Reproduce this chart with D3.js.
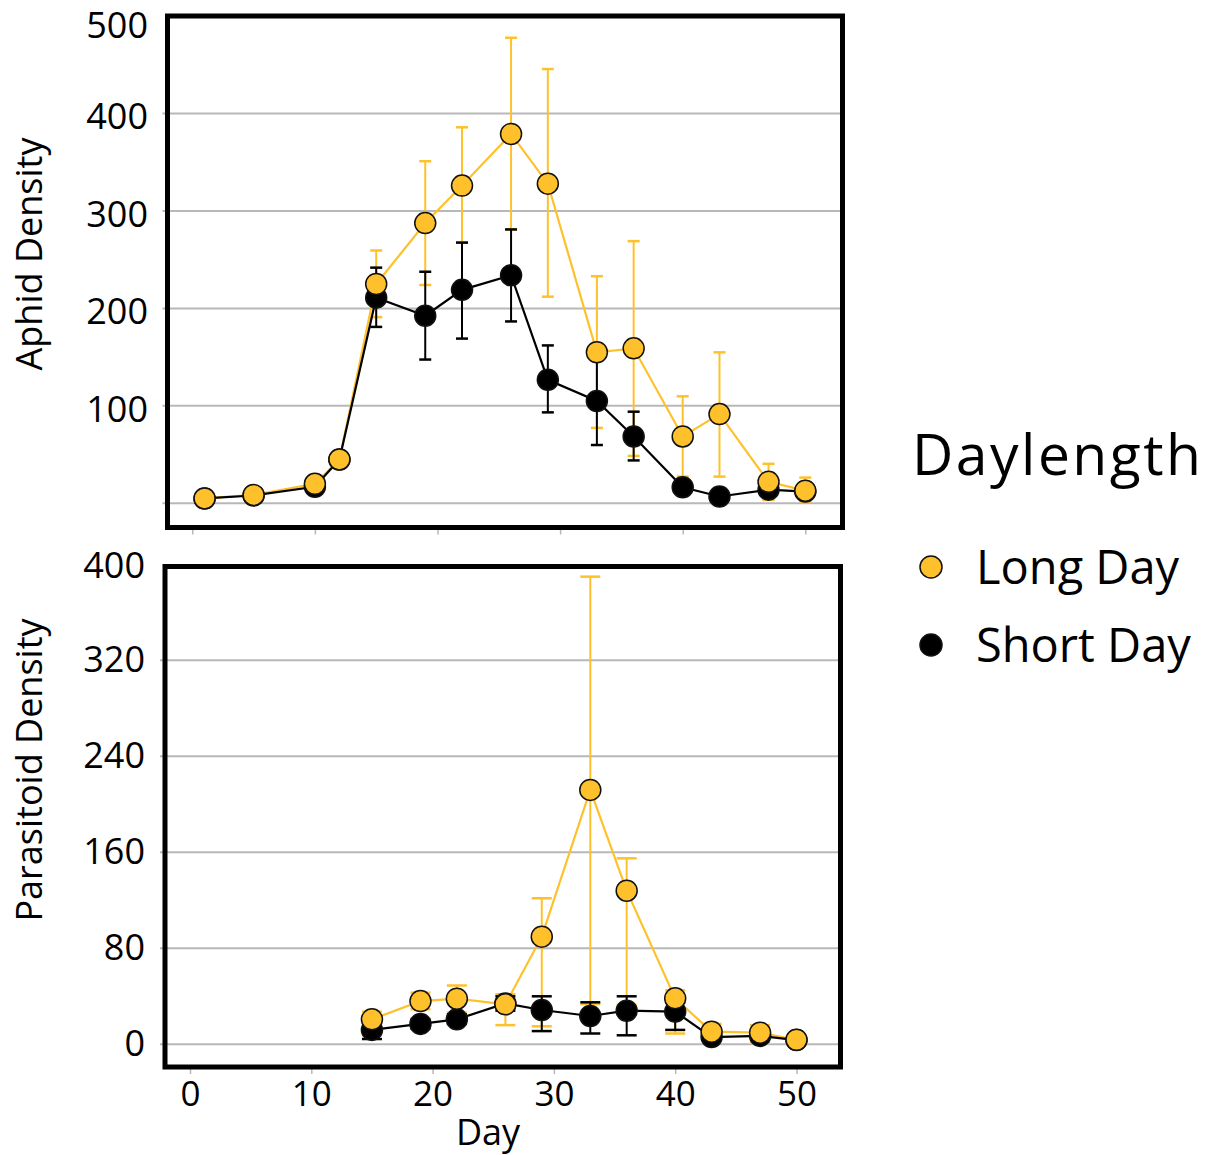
<!DOCTYPE html>
<html>
<head>
<meta charset="utf-8">
<script src="https://cdn.jsdelivr.net/npm/d3@7"></script>
<style>
  html, body { margin: 0; padding: 0; background: #fff; }
  svg { display: block; font-family: "Open Sans", "Noto Sans", sans-serif; }
</style>
</head>
<body>
<svg id="chart" width="1210" height="1155"></svg>
<script>
// Sampling days
const aphidDays = [1, 5, 10, 12, 15, 19, 22, 26, 29, 33, 36, 40, 43, 47, 50];
const parasitoidDays = [15, 19, 22, 26, 29, 33, 36, 40, 43, 47, 50];

// Aphid density: means with lower / upper error limits
const aphidLong    = [5, 8.6, 20, 45, 225, 287.5, 326, 379, 328, 155, 159, 68.6, 91.5, 22, 13];
const aphidLongLo  = [4, 7, 17, 42, 191, 224, 267.5, 281, 212, 77.4, 48.6, 27.4, 27.4, 3.5, 1.8];
const aphidLongHi  = [6, 10, 23, 48, 259.4, 351, 385.8, 477.7, 445.6, 233, 269, 109.8, 154.9, 40.5, 26.4];
const aphidShort   = [5, 8, 17, 45, 211, 192.5, 219, 234, 126.7, 105, 68.6, 16.5, 7, 14, 12];
const aphidShortLo = [4, 7, 15, 42, 181, 147.5, 169, 186.6, 93.3, 59.8, 44, 12, 5, 8, 6];
const aphidShortHi = [6, 9, 19, 48, 241.8, 237.6, 267.5, 281, 162, 150, 94, 21, 9, 20, 18];

// Parasitoid density: means with lower / upper error limits
const paraLong    = [20.8, 36, 38, 33.3, 89.7, 212, 128, 38.3, 10.5, 9.7, 3.8];
const paraLongLo  = [14, 29.2, 26.4, 16, 15, 33.6, 32.8, 9, 3, 2, 2];
const paraLongHi  = [27.2, 43, 49, 41.7, 121.7, 389.7, 155, 45, 17, 16, 6];
const paraShort   = [12, 17, 20.8, 34, 28.6, 23.6, 28, 27.2, 6, 7, 3.5];
const paraShortLo = [4.4, 13, 17, 28, 11, 9, 7.5, 12, 4, 5, 2.5];
const paraShortHi = [19, 21, 25, 40, 40, 35, 40, 35, 8, 9, 4.5];

// Axis ticks
const xTicks = [0, 10, 20, 30, 40, 50];
const aphidTickLabels = [100, 200, 300, 400, 500];
const aphidGrid = [0, 100, 200, 300, 400];
const paraTickLabels = [0, 80, 160, 240, 320, 400];
const paraGrid = [0, 80, 160, 240, 320];

const seriesNames = ["Long Day", "Short Day"];
const legendTitle = "Daylength";

const YELLOW = "#FFC12B";
const BLACK = "#000000";
const GRID = "#b8b8b8";

const svg = d3.select("#chart");

function zip(days, mean, lo, hi) {
  return days.map((d, i) => ({ day: d, v: mean[i], lo: lo[i], hi: hi[i] }));
}

function panel(cfg) {
  const g = svg.append("g");
  const x = d3.scaleLinear().domain([0, 50]).range(cfg.xRange);
  const y = d3.scaleLinear().domain(cfg.yDomain).range(cfg.yRange);
  const [bx0, bx1, by0, by1] = cfg.box;
  const yMax = cfg.yDomain[1];

  // horizontal gridlines (with a short stub left of the frame)
  g.selectAll("line.grid").data(cfg.grid).join("line")
    .attr("class", "grid")
    .attr("x1", bx0 - 5).attr("x2", bx1)
    .attr("y1", d => y(d)).attr("y2", d => y(d))
    .attr("stroke", GRID).attr("stroke-width", 2);

  // y tick labels
  const yAxis = d3.axisLeft(y).tickValues(cfg.tickLabels).tickSize(0).tickPadding(cfg.labelPad);
  const ya = g.append("g").attr("transform", `translate(${bx0},${cfg.labelShift})`).call(yAxis);
  ya.select(".domain").remove();
  ya.selectAll("text").attr("font-size", 36).attr("fill", "#000")
    .attr("font-family", "'Open Sans', sans-serif");
  // the label at the very top of the frame sits a little lower
  ya.selectAll(".tick").filter(d => d === yMax).select("text")
    .attr("dy", `calc(0.32em + ${cfg.topExtra}px)`)
    .attr("y", cfg.topExtra).attr("dy", "0.32em");

  // x tick marks below the frame
  const xAxis = d3.axisBottom(x).tickValues(xTicks).tickSize(5).tickPadding(7)
    .tickFormat(cfg.showXLabels ? d3.format("d") : () => "");
  const xa = g.append("g").attr("transform", `translate(0,${by1 + 2})`).call(xAxis);
  xa.select(".domain").remove();
  xa.selectAll("line").attr("stroke", GRID).attr("stroke-width", 1.5);
  xa.selectAll("text").attr("font-size", 35).attr("fill", "#000")
    .attr("font-family", "'Open Sans', sans-serif").attr("dy", "0.71em");

  const line = d3.line().x(d => x(d.day)).y(d => y(d.v));

  // error bars for both series
  cfg.series.forEach(s => {
    const eb = g.append("g");
    eb.selectAll("line.stem").data(s.data).join("line")
      .attr("x1", d => x(d.day)).attr("x2", d => x(d.day))
      .attr("y1", d => y(d.lo)).attr("y2", d => y(d.hi))
      .attr("stroke", s.color).attr("stroke-width", 2);
    ["lo", "hi"].forEach(k => {
      eb.selectAll("line.cap-" + k).data(s.data).join("line")
        .attr("x1", d => x(d.day) - cfg.cap).attr("x2", d => x(d.day) + cfg.cap)
        .attr("y1", d => y(d[k])).attr("y2", d => y(d[k]))
        .attr("stroke", s.color).attr("stroke-width", 2.5);
    });
  });

  // connecting lines
  cfg.series.forEach(s => {
    g.append("path").datum(s.data)
      .attr("d", line).attr("fill", "none")
      .attr("stroke", s.color).attr("stroke-width", 2.2);
  });

  // markers: short day first, long day on top
  [...cfg.series].reverse().forEach(s => {
    g.append("g").selectAll("circle").data(s.data).join("circle")
      .attr("cx", d => x(d.day)).attr("cy", d => y(d.v)).attr("r", 10.5)
      .attr("fill", s.color).attr("stroke", "#111").attr("stroke-width", 1.5);
  });

  // frame
  g.append("rect")
    .attr("x", bx0).attr("y", by0)
    .attr("width", bx1 - bx0).attr("height", by1 - by0)
    .attr("fill", "none").attr("stroke", "#000").attr("stroke-width", 5);

  // y title
  svg.append("text")
    .attr("transform", `translate(42,${cfg.titleY}) rotate(-90)`)
    .attr("text-anchor", "middle")
    .attr("font-size", 36)
    .text(cfg.title);

  return { x, y };
}

panel({
  xRange: [192.3, 805.3],
  yDomain: [0, 500],
  yRange: [503.3, 16],
  box: [167.5, 842.5, 16, 527.5],
  grid: aphidGrid,
  tickLabels: aphidTickLabels,
  labelPad: 19.5,
  labelShift: 4,
  topExtra: 6,
  showXLabels: false,
  cap: 6,
  title: "Aphid Density",
  titleY: 254,
  series: [
    { color: YELLOW, data: zip(aphidDays, aphidLong, aphidLongLo, aphidLongHi) },
    { color: BLACK, data: zip(aphidDays, aphidShort, aphidShortLo, aphidShortHi) }
  ]
});

panel({
  xRange: [190, 796.5],
  yDomain: [0, 400],
  yRange: [1044.3, 564.3],
  box: [165, 840.5, 566.5, 1067],
  grid: paraGrid,
  tickLabels: paraTickLabels,
  labelPad: 20,
  labelShift: 0,
  topExtra: 2,
  showXLabels: true,
  cap: 10,
  title: "Parasitoid Density",
  titleY: 770,
  series: [
    { color: YELLOW, data: zip(parasitoidDays, paraLong, paraLongLo, paraLongHi) },
    { color: BLACK, data: zip(parasitoidDays, paraShort, paraShortLo, paraShortHi) }
  ]
});

// x title
svg.append("text")
  .attr("x", 488).attr("y", 1145)
  .attr("text-anchor", "middle")
  .attr("font-size", 36)
  .text("Day");

// legend
const legend = svg.append("g");
legend.append("text")
  .attr("x", 912).attr("y", 475)
  .attr("font-size", 57)
  .attr("textLength", 289).attr("lengthAdjust", "spacing")
  .text(legendTitle);

const legendColors = [YELLOW, BLACK];
const legendY = [567, 645];
seriesNames.forEach((name, i) => {
  legend.append("circle")
    .attr("cx", 931).attr("cy", legendY[i]).attr("r", 11)
    .attr("fill", legendColors[i]).attr("stroke", "#111").attr("stroke-width", 1.5);
  legend.append("text")
    .attr("x", 976).attr("y", legendY[i] + 17)
    .attr("font-size", 47)
    .text(name);
});
</script>
</body>
</html>
